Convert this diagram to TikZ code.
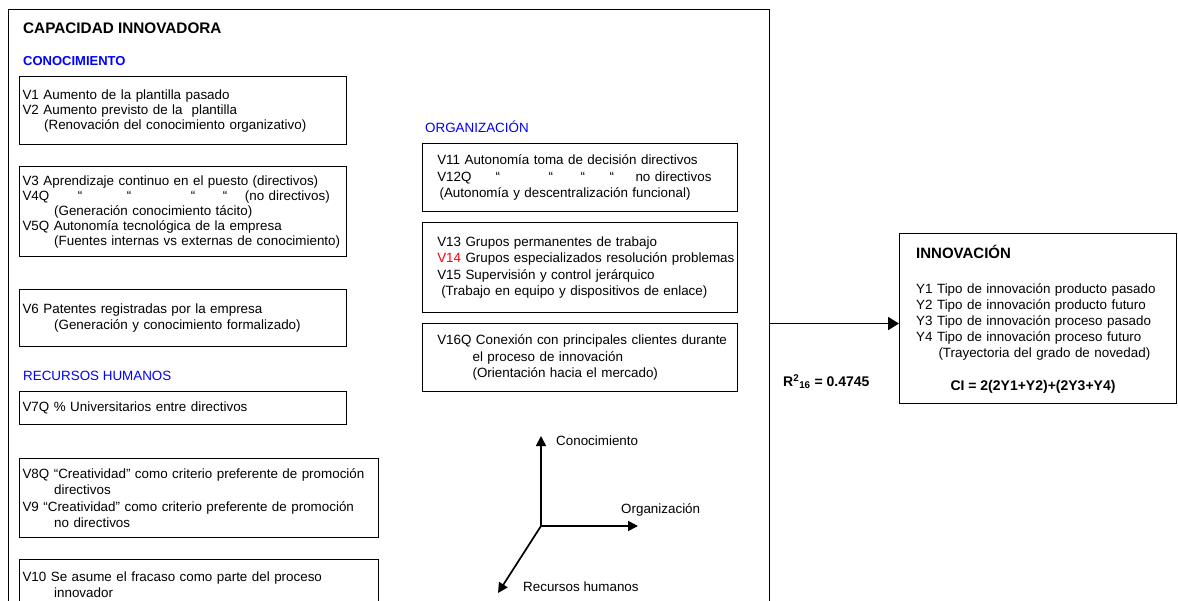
\documentclass[tikz,border=0pt]{standalone}
\usepackage{fontspec}
\setmainfont{Liberation Sans}
\usepackage{xcolor}
\usetikzlibrary{arrows.meta, positioning}
\definecolor{azul}{RGB}{0,0,255}
\definecolor{rojo}{RGB}{255,0,0}
\tikzset{
  marco/.style={rectangle, draw, line width=1.4pt, anchor=north west, inner sep=0pt},
  caja/.style 2 args={rectangle, draw, line width=1.1pt, anchor=north west, inner xsep=3pt, inner ysep=0pt,
    align=left, minimum width=#1, text width=#1-6pt, minimum height=#2, font=\fontsize{13.4}{15}\selectfont},
  cajaorg/.style 2 args={caja={#1}{#2}, font=\fontsize{13.4}{16.5}\selectfont, execute at begin node={\leftskip=11.7pt}},
  titulo/.style={anchor=base west, inner sep=0pt, font=\bfseries\fontsize{15.3}{18}\selectfont},
  seccion/.style={anchor=base west, inner sep=0pt, text=azul, font=\fontsize{13.4}{15}\selectfont},
  rotulo/.style={anchor=base west, inner sep=0pt, font=\fontsize{13.4}{16}\selectfont},
  flecha/.style={-{Triangle[length=11pt, width=13pt]}, line width=1.8pt},
  eje/.style={-{Triangle[length=10pt, width=10pt]}, line width=1.7pt},
}

\begin{document}
\begin{tikzpicture}[x=1pt, y=-1pt]
    \useasboundingbox (0,0) rectangle (1178,601);
    % capacidad innovadora
    \node[marco, minimum width=761pt, minimum height=620pt] (capacidad) at (8,9) {};
    \node[titulo] (tcap) at (23,33.3) {CAPACIDAD INNOVADORA};
    \node[seccion, font=\bfseries\fontsize{13}{15}\selectfont] (tcon) at (23,66) {CONOCIMIENTO};
    \node[seccion] (trh) at (23,381) {RECURSOS HUMANOS};
    \node[seccion] (torg) at (425,132.3) {ORGANIZACIÓN};

    % conocimiento
    \node[caja={327pt}{68pt}] (v1) at (19,76) {V1 Aumento de la plantilla pasado\\
      V2 Aumento previsto de la\ \ plantilla\\
      \hspace*{21.6pt}(Renovación del conocimiento organizativo)};
    \node[caja={327pt}{90pt}] (v3) at (19,166) {V3 Aprendizaje continuo en el puesto (directivos)\\
      \makebox[55.3pt][l]{V4Q}\makebox[49pt][l]{“}\makebox[64pt][l]{“}\makebox[32pt][l]{“}\makebox[22pt][l]{“}(no directivos)\\
      \hspace*{31.6pt}(Generación conocimiento tácito)\\
      V5Q Autonomía tecnológica de la empresa\\
      \hspace*{31.6pt}(Fuentes internas vs externas de conocimiento)};
    \node[caja={327pt}{57pt}, font=\fontsize{13.4}{16}\selectfont] (v6) at (19,289) {V6 Patentes registradas por la empresa\\
      \hspace*{31.6pt}(Generación y conocimiento formalizado)};

    % recursos humanos
    \node[caja={327pt}{33pt}] (v7) at (19,391) {V7Q \% Universitarios entre directivos};
    \node[caja={359pt}{79pt}, font=\fontsize{13.4}{16.3}\selectfont] (v8) at (19,458) {V8Q “Creatividad” como criterio preferente de promoción\\
      \hspace*{31.6pt}directivos\\
      V9 “Creatividad” como criterio preferente de promoción\\
      \hspace*{31.6pt}no directivos};
    \node[caja={359pt}{50pt}, font=\fontsize{13.4}{16.5}\selectfont] (v10) at (19,559) {V10 Se asume el fracaso como parte del proceso\\
      \hspace*{31.6pt}innovador};

    % organizacion
    \node[cajaorg={315pt}{68pt}] (v11) at (422,143) {V11 Autonomía toma de decisión directivos\\
      \makebox[58.3pt][l]{V12Q}\makebox[53pt][l]{“}\makebox[32pt][l]{“}\makebox[29pt][l]{“}\makebox[26pt][l]{“}no directivos\\
      \hspace*{2.3pt}(Autonomía y descentralización funcional)};
    \node[cajaorg={315pt}{90pt}] (v13) at (422,222) {V13 Grupos permanentes de trabajo\\
      \textcolor{rojo}{V14} Grupos especializados resolución problemas\\
      V15 Supervisión y control jerárquico\\
      \hspace*{4pt}(Trabajo en equipo y dispositivos de enlace)};
    \node[cajaorg={315pt}{68pt}] (v16) at (422,323) {V16Q Conexión con principales clientes durante\\
      \hspace*{35.3pt}el proceso de innovación\\
      \hspace*{35.3pt}(Orientación hacia el mercado)};

    % innovacion
    \node[marco, line width=1.1pt, minimum width=277pt, minimum height=170pt] (innov) at (899,233) {};
    \node[rotulo, text width=255pt, align=left] (innovtxt) at (916,258.3) {{\bfseries\fontsize{15}{16}\selectfont INNOVACIÓN}\\[19.7pt]
      Y1 Tipo de innovación producto pasado\\
      Y2 Tipo de innovación producto futuro\\
      Y3 Tipo de innovación proceso pasado\\
      Y4 Tipo de innovación proceso futuro\\
      \hspace*{22.3pt}(Trayectoria del grado de novedad)};
    \node[anchor=base, inner sep=0pt, font=\bfseries\fontsize{14}{16}\selectfont] (ci) at (1033,390.7) {CI = 2(2Y1+Y2)+(2Y3+Y4)};

    \coordinate (punta) at ([yshift=-5pt]innov.west);
    \draw[flecha] (punta -| capacidad.east) -- (punta);
    \node[anchor=base west, inner sep=0pt, font=\bfseries\fontsize{14}{16}\selectfont] (r2) at (783,386.7) {R\textsuperscript{2}\textsubscript{16} = 0.4745};

    % ejes
    \coordinate (origen) at (541,526);
    \coordinate (ejecon) at (541,436);
    \coordinate (ejeorg) at (638,526);
    \coordinate (ejerh) at (498,593);
    \draw[eje] (origen) -- (ejecon);
    \draw[eje] (origen) -- (ejeorg);
    \draw[eje] (origen) -- (ejerh);
    \node[rotulo] (lcon) at (556,445.7) {Conocimiento};
    \node[rotulo] (lorg) at (621,513) {Organización};
    \node[rotulo] (lrh) at (523,591.7) {Recursos humanos};
  \end{tikzpicture}
\end{document}
